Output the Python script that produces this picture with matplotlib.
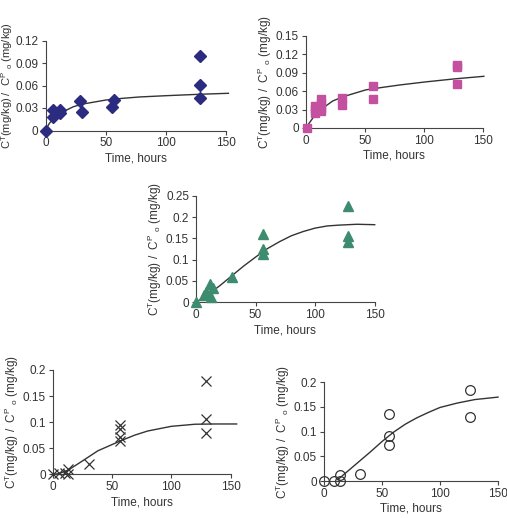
import matplotlib
matplotlib.use('Agg')
import matplotlib.pyplot as plt

plt.rcParams['font.family'] = ['Liberation Sans', 'DejaVu Sans']
plt.rcParams['font.size'] = 8
plt.rcParams['mathtext.fontset'] = 'custom'
plt.rcParams['mathtext.rm'] = 'Liberation Sans'

# panel 1 - diamonds
t1 = [0, 6.5, 6.5, 12, 12, 29, 30, 55.5, 56.6, 128, 128, 128]
c1 = [0, 0.028, 0.018, 0.0275, 0.023, 0.039, 0.025, 0.032, 0.041, 0.0995, 0.061, 0.0435]
fit1_t = [0, 3, 6.4, 12, 23, 30, 50, 64, 78, 100, 128, 152]
fit1_c = [0, 0.009, 0.016, 0.023, 0.0316, 0.035, 0.0406, 0.0429, 0.0447, 0.0464, 0.0483, 0.0496]

# panel 2 - squares
t2 = [1, 8, 8, 8, 13, 13, 13, 13, 31, 31, 57, 57, 128, 128, 128]
c2 = [0, 0.025, 0.031, 0.036, 0.028, 0.033, 0.041, 0.047, 0.049, 0.038, 0.069, 0.047, 0.103, 0.099, 0.0715]
fit2_t = [0, 3, 6.5, 12, 23, 32, 51, 65, 80, 102, 127, 151]
fit2_c = [0, 0.008, 0.0173, 0.029, 0.044, 0.051, 0.062, 0.066, 0.070, 0.075, 0.080, 0.084]

# panel 3 - triangles
t3 = [0, 7, 8, 12, 12.5, 14, 30.5, 56.4, 56.4, 56.4, 127.5, 127.5, 127.5]
c3 = [0, 0.018, 0.025, 0.042, 0.013, 0.033, 0.059, 0.160, 0.124, 0.113, 0.227, 0.156, 0.141]
fit3_t = [0, 10, 20, 30, 40, 50, 60, 70, 80, 90, 100, 110, 120, 135, 150]
fit3_c = [0, 0.018, 0.039, 0.062, 0.085, 0.106, 0.126, 0.142, 0.156, 0.166, 0.174, 0.179, 0.181, 0.183, 0.182]

# panel 4 - crosses
t4 = [0, 5, 10, 13, 13, 31, 56.7, 56.7, 56.7, 56.7, 129.5, 129.5, 129.5]
c4 = [0, 0.002, 0.002, 0.010, 0.0, 0.019, 0.095, 0.087, 0.072, 0.064, 0.178, 0.106, 0.079]
fit4_t = [0, 5, 13, 24, 38, 57, 69, 80, 100, 120, 137, 155]
fit4_c = [0, 0.001, 0.008, 0.024, 0.045, 0.064, 0.075, 0.083, 0.092, 0.096, 0.0965, 0.0965]

# panel 5 - circles
t5 = [0, 8.5, 13.5, 13.5, 30.7, 55.7, 55.7, 55.7, 126, 126]
c5 = [0, 0.001, 0.012, 0.0, 0.015, 0.135, 0.092, 0.073, 0.184, 0.130]
fit5_t = [12, 20, 30, 40, 50, 60, 70, 80, 90, 100, 115, 130, 150]
fit5_c = [0.003, 0.019, 0.039, 0.059, 0.080, 0.099, 0.115, 0.128, 0.139, 0.149, 0.158, 0.165, 0.170]

W, H = 507, 518
fig = plt.figure(figsize=(W / 100, H / 100), dpi=100)


def make_axes(x0, x1, ytop, ybot):
    return fig.add_axes([x0 / W, 1 - ybot / H, (x1 - x0) / W, (ybot - ytop) / H])


ylab = r'C$^\mathregular{T}$(mg/kg) /  C$^\mathregular{P}$ $_\mathregular{o}$ (mg/kg)'

panels = [
    (make_axes(45.5, 226, 40.5, 130.5), t1, c1, fit1_t, fit1_c,
     dict(marker='D', color='#2B2B80', ms=6.2, ls='none'), 0.12, [0, 0.03, 0.06, 0.09, 0.12], ['0', '0.03', '0.06', '0.09', '0.12']),
    (make_axes(305.7, 482.7, 35.7, 128), t2, c2, fit2_t, fit2_c,
     dict(marker='s', color='#C4519F', ms=6.3, ls='none'), 0.15, [0, 0.03, 0.06, 0.09, 0.12, 0.15], ['0', '0.03', '0.06', '0.09', '0.12', '0.15']),
    (make_axes(196, 374.7, 195.7, 302.3), t3, c3, fit3_t, fit3_c,
     dict(marker='^', color='#3E8C6F', ms=6.8, ls='none'), 0.25, [0, 0.05, 0.1, 0.15, 0.2, 0.25], ['0', '0.05', '0.1', '0.15', '0.2', '0.25']),
    (make_axes(52.7, 230.7, 370, 474.3), t4, c4, fit4_t, fit4_c,
     dict(marker='x', color='#333333', ms=7.5, mew=0.9, ls='none'), 0.2, [0, 0.05, 0.1, 0.15, 0.2], ['0', '0.05', '0.1', '0.15', '0.2']),
    (make_axes(324, 498, 382.3, 481), t5, c5, fit5_t, fit5_c,
     dict(marker='o', mfc='none', mec='#333333', ms=7, mew=0.9, ls='none'), 0.2, [0, 0.05, 0.1, 0.15, 0.2], ['0', '0.05', '0.1', '0.15', '0.2']),
]

for i, (ax, t, c, ft, fc, style, ymax, yt, ytl) in enumerate(panels):
    ax.plot(ft, fc, color='#333333', lw=1.0, clip_on=False, zorder=2)
    ax.plot(t, c, clip_on=False, zorder=3, **style)
    ax.set_xlim(0, 150)
    ax.set_ylim(0, ymax)
    ax.set_xticks([0, 50, 100, 150])
    ax.set_yticks(yt)
    ax.set_yticklabels(ytl)
    for s in ['top', 'right']:
        ax.spines[s].set_visible(False)
    for s in ['left', 'bottom']:
        ax.spines[s].set_color('#444444')
        ax.spines[s].set_linewidth(0.8)
    ax.tick_params(direction='out', length=3, width=0.8, color='#444444',
                   labelcolor='#333333', labelsize=8.5, pad=2)
    ax.set_xlabel('Time, hours', fontsize=8.5, color='#333333', labelpad=2)
    if i == 0:
        # first panel sits close to the left edge
        ax.set_ylabel(ylab, fontsize=8, color='#333333', labelpad=0.5)
    else:
        ax.set_ylabel(ylab, fontsize=8.5, color='#333333', labelpad=1.5)
    ax.patch.set_alpha(0)

fig.savefig('out.png', dpi=100)
